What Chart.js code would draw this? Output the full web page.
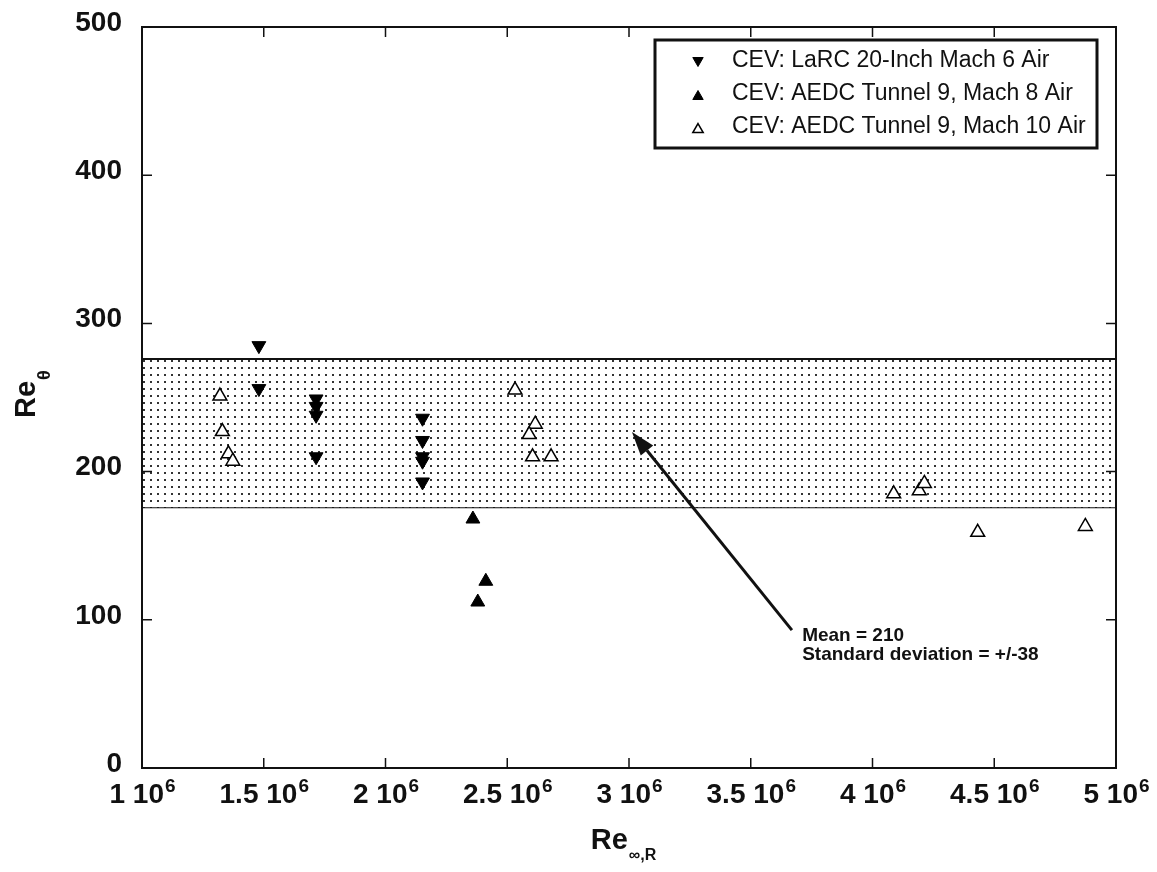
<!DOCTYPE html>
<html>
<head>
<meta charset="utf-8">
<script src="https://cdn.jsdelivr.net/npm/chart.js@4.4.1/dist/chart.umd.min.js"></script>
<style>
  html, body { margin: 0; padding: 0; background: #fff; }
  #wrap { width: 1157px; height: 872px; }
</style>
</head>
<body>
<div id="wrap"><canvas id="chart" width="1157" height="872"></canvas></div>
<script>
// values (Re_inf,R vs Re_theta)
const larcX = [1.48e6, 1.48e6, 1.715e6, 1.715e6, 1.715e6, 1.715e6, 2.152e6, 2.152e6, 2.152e6, 2.152e6, 2.152e6];
const larcY = [285, 256, 249, 244, 238, 210, 236, 221, 210, 207, 193];

const mach8X = [2.359e6, 2.412e6, 2.379e6];
const mach8Y = [168, 126, 112];

const mach10X = [1.32e6, 1.33e6, 1.355e6, 1.373e6, 2.532e6, 2.615e6, 2.59e6, 2.604e6, 2.68e6, 4.087e6, 4.192e6, 4.213e6, 4.432e6, 4.874e6];
const mach10Y = [251, 227, 212, 207, 255, 232, 225, 210, 210, 185, 187, 192, 159, 163];

// shaded band (mean +/- scatter)
const bandX = [1e6, 5e6];
const bandLow = 176;
const bandHigh = 276;

// arrow + note
const arrowFrom = { x: 3.669e6, y: 93 };
const arrowTo = { x: 3.012e6, y: 226.8 };
const noteAt = { x: 3.711e6, y: 86 };
const noteLines = ['Mean = 210', 'Standard deviation = +/-38'];

const seriesNames = [
  'CEV: LaRC 20-Inch Mach 6 Air',
  'CEV: AEDC Tunnel 9, Mach 8 Air',
  'CEV: AEDC Tunnel 9, Mach 10 Air'
];

const xTickMantissa = ['1', '1.5', '2', '2.5', '3', '3.5', '4', '4.5', '5'];
const xTickExp = '6';

const FONT = '"Liberation Sans", Arial, Helvetica, sans-serif';
const INK = '#111';

function pts(xs, ys) {
  return xs.map((x, i) => ({ x: x, y: ys[i] }));
}

// dotted fill for the band
function dotPattern() {
  const c = document.createElement('canvas');
  c.width = 7; c.height = 7;
  const g = c.getContext('2d');
  g.fillStyle = '#fff';
  g.fillRect(0, 0, 7, 7);
  g.fillStyle = '#333';
  g.fillRect(3, 3, 2, 2);
  return g.createPattern(c, 'repeat');
}

const markers = [
  { pointStyle: 'triangle', rotation: 180, fill: '#000', border: '#000', bw: 1 },
  { pointStyle: 'triangle', rotation: 0, fill: '#000', border: '#000', bw: 1 },
  { pointStyle: 'triangle', rotation: 0, fill: '#fff', border: '#000', bw: 1.5 }
];

const decorPlugin = {
  id: 'decor',
  afterDraw(chart) {
    const { ctx, chartArea: a, scales: { x, y } } = chart;
    ctx.save();

    // frame
    ctx.strokeStyle = INK;
    ctx.lineWidth = 2;
    ctx.strokeRect(a.left, a.top, a.right - a.left, a.bottom - a.top);

    // inward ticks on all four sides
    ctx.lineWidth = 1.5;
    ctx.beginPath();
    x.ticks.forEach(t => {
      const px = x.getPixelForValue(t.value);
      ctx.moveTo(px, a.bottom); ctx.lineTo(px, a.bottom - 10);
      ctx.moveTo(px, a.top); ctx.lineTo(px, a.top + 10);
    });
    y.ticks.forEach(t => {
      const py = y.getPixelForValue(t.value);
      ctx.moveTo(a.left, py); ctx.lineTo(a.left + 10, py);
      ctx.moveTo(a.right, py); ctx.lineTo(a.right - 10, py);
    });
    ctx.stroke();

    // x tick labels "m 10^6"
    ctx.fillStyle = INK;
    ctx.textBaseline = 'alphabetic';
    ctx.textAlign = 'left';
    x.ticks.forEach((t, i) => {
      const main = xTickMantissa[i] + ' 10';
      ctx.font = 'bold 28px ' + FONT;
      const wm = ctx.measureText(main).width;
      ctx.font = 'bold 19px ' + FONT;
      const ws = ctx.measureText(xTickExp).width;
      const px = x.getPixelForValue(t.value);
      const sx = px - (wm + ws) / 2;
      ctx.font = 'bold 28px ' + FONT;
      ctx.fillText(main, sx, 803);
      ctx.font = 'bold 19px ' + FONT;
      ctx.fillText(xTickExp, sx + wm + 1, 792);
    });

    // x axis title Re_{inf,R}
    ctx.font = 'bold 29px ' + FONT;
    const wRe = ctx.measureText('Re').width;
    ctx.font = 'bold 16px ' + FONT;
    const wSub = ctx.measureText('\u221e,R').width;
    const tx = (a.left + a.right) / 2 - 6 - (wRe + wSub) / 2;
    ctx.font = 'bold 29px ' + FONT;
    ctx.fillText('Re', tx, 849);
    ctx.font = 'bold 16px ' + FONT;
    ctx.fillText('\u221e,R', tx + wRe + 1, 860);

    // y axis title Re_theta (rotated)
    ctx.save();
    ctx.font = 'bold 29px ' + FONT;
    const wRe2 = ctx.measureText('Re').width;
    ctx.translate(35, 418);
    ctx.rotate(-Math.PI / 2);
    ctx.fillText('Re', 0, 0);
    ctx.font = 'bold 18px ' + FONT;
    ctx.fillText('\u03b8', wRe2 + 1, 15);
    ctx.restore();

    // arrow
    const x0 = x.getPixelForValue(arrowFrom.x), y0 = y.getPixelForValue(arrowFrom.y);
    const x1 = x.getPixelForValue(arrowTo.x), y1 = y.getPixelForValue(arrowTo.y);
    const ang = Math.atan2(y1 - y0, x1 - x0);
    const headLen = 24, headHalf = 8;
    const bx = x1 - Math.cos(ang) * headLen, by = y1 - Math.sin(ang) * headLen;
    ctx.strokeStyle = INK;
    ctx.lineWidth = 3;
    ctx.beginPath();
    ctx.moveTo(x0, y0);
    ctx.lineTo(bx, by);
    ctx.stroke();
    ctx.fillStyle = INK;
    ctx.beginPath();
    ctx.moveTo(x1, y1);
    ctx.lineTo(bx - Math.sin(ang) * headHalf, by + Math.cos(ang) * headHalf);
    ctx.lineTo(bx + Math.sin(ang) * headHalf, by - Math.cos(ang) * headHalf);
    ctx.closePath();
    ctx.fill();

    // note text
    ctx.font = 'bold 19px ' + FONT;
    const nx = x.getPixelForValue(noteAt.x), ny = y.getPixelForValue(noteAt.y);
    noteLines.forEach((s, i) => ctx.fillText(s, nx, ny + i * 19));

    // legend box
    ctx.fillStyle = '#fff';
    ctx.fillRect(655, 40, 442, 108);
    ctx.strokeStyle = INK;
    ctx.lineWidth = 3;
    ctx.strokeRect(655, 40, 442, 108);
    ctx.font = '23px ' + FONT;
    seriesNames.forEach((name, i) => {
      const m = markers[i];
      const rowY = 67 + i * 33;
      ctx.fillStyle = m.fill;
      ctx.strokeStyle = m.border;
      ctx.lineWidth = m.bw;
      const my = m.rotation ? rowY - 6.5 : rowY - 3.5;
      Chart.helpers.drawPoint(ctx, { pointStyle: m.pointStyle, rotation: m.rotation, radius: 6, borderWidth: m.bw }, 698, my);
      ctx.fillStyle = INK;
      ctx.fillText(name, 732, rowY);
    });

    ctx.restore();
  }
};

const scatterSet = (i, xs, ys) => ({
  label: seriesNames[i],
  data: pts(xs, ys),
  pointStyle: markers[i].pointStyle,
  rotation: markers[i].rotation,
  pointRadius: 8,
  pointHoverRadius: 8,
  backgroundColor: markers[i].fill,
  borderColor: markers[i].border,
  borderWidth: markers[i].bw,
  order: 1
});

new Chart(document.getElementById('chart'), {
  type: 'scatter',
  data: {
    datasets: [
      {
        type: 'line',
        label: 'band low',
        data: bandX.map(v => ({ x: v, y: bandLow })),
        borderColor: INK,
        borderWidth: 2,
        pointRadius: 0,
        fill: false,
        order: 10
      },
      {
        type: 'line',
        label: 'band high',
        data: bandX.map(v => ({ x: v, y: bandHigh })),
        borderColor: INK,
        borderWidth: 2,
        pointRadius: 0,
        fill: '-1',
        backgroundColor: dotPattern(),
        order: 9
      },
      scatterSet(0, larcX, larcY),
      scatterSet(1, mach8X, mach8Y),
      scatterSet(2, mach10X, mach10Y)
    ]
  },
  options: {
    responsive: false,
    animation: false,
    layout: { padding: { left: 10, top: 27, right: 41, bottom: 0 } },
    plugins: {
      legend: { display: false },
      tooltip: { enabled: false }
    },
    scales: {
      x: {
        type: 'linear',
        min: 1e6,
        max: 5e6,
        ticks: { stepSize: 5e5, display: false },
        grid: { display: false, drawTicks: false },
        border: { display: false },
        afterFit: s => { s.height = 104; s.paddingLeft = 0; s.paddingRight = 0; }
      },
      y: {
        min: 0,
        max: 500,
        ticks: {
          stepSize: 100,
          color: INK,
          padding: 20,
          labelOffset: -4,
          font: { family: FONT, size: 28, weight: 'bold' }
        },
        grid: { display: false, drawTicks: false },
        border: { display: false },
        afterFit: s => { s.width = 132; s.paddingTop = 0; s.paddingBottom = 0; }
      }
    }
  },
  plugins: [decorPlugin]
});
</script>
</body>
</html>
